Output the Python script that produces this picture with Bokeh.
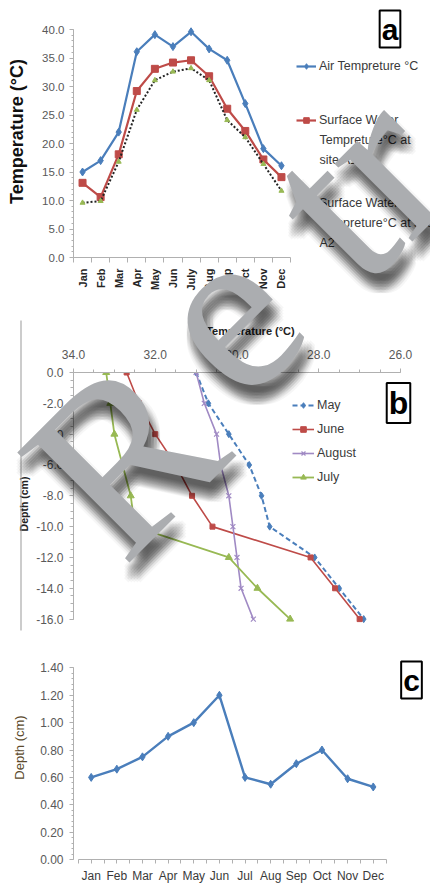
import math
from bokeh.plotting import figure
from bokeh.models import (Range1d, FixedTicker, NumeralTickFormatter, Legend,
                          LegendItem, Label, BoxAnnotation)
from bokeh.layouts import column
from bokeh.embed import file_html
from bokeh.resources import INLINE

# ---- (a) monthly air / surface water temperature ----
months_a = ["Jan", "Feb", "Mar", "Apr", "May", "Jun", "July", "Aug", "Sep", "Oct", "Nov", "Dec"]
air_temp = [15.0, 17.0, 22.0, 36.1, 39.1, 37.0, 39.6, 36.6, 34.6, 27.0, 19.1, 16.1]
water_a1 = [13.1, 10.6, 18.1, 29.2, 33.1, 34.2, 34.6, 31.8, 26.1, 22.2, 17.2, 14.1]
water_a2 = [9.6, 9.9, 16.8, 25.9, 31.1, 32.6, 33.2, 31.1, 24.1, 21.1, 16.4, 11.7]
legend_a = ["Air Tempreture \u00b0C",
            "Surface Water\nTempreture\u00b0C at\nsite A1",
            "Surface Water\nTempreture\u00b0C at site\nA2"]

# ---- (b) temperature profiles with depth ----
depth_b = [0.0, -2.0, -4.0, -6.0, -8.0, -10.0, -12.0, -14.0, -16.0]
temp_may = [31.0, 30.7, 30.2, 29.7, 29.4, 29.2, 28.1, 27.5, 26.9]
temp_june = [32.7, 32.4, 32.0, 31.5, 31.1, 30.6, 28.2, 27.6, 27.0]
temp_august = [31.0, 30.8, 30.5, 30.4, 30.2, 30.1, 30.0, 29.9, 29.6]
temp_july = [33.2, 33.1, 33.0, 32.8, 32.6, 32.5, 30.2, 29.5, 28.7]
legend_b = ["May", "June", "August", "July"]

# ---- (c) monthly depth ----
months_c = ["Jan", "Feb", "Mar", "Apr", "May", "Jun", "Jul", "Aug", "Sep", "Oct", "Nov", "Dec"]
depth_c = [0.60, 0.66, 0.75, 0.90, 1.00, 1.20, 0.60, 0.55, 0.70, 0.80, 0.59, 0.53]

BLUE = "#4a7ebb"
RED = "#be4b48"
GREEN = "#98b954"
PURPLE = "#a08ac4"
AXIS = "#b0b0b0"
TICK_TXT = "#595959"
LEG_TXT = "#3a3a3a"
FONT = "Liberation Sans"
W = 430
LEFT = 73  # common left border so the stacked frames line up


def base_fig(h, top, bottom, x_range, y_range, **kw):
    p = figure(width=W, height=h, output_backend="svg", toolbar_location=None,
               min_border_left=LEFT, min_border_right=0,
               min_border_top=top, min_border_bottom=bottom,
               x_range=x_range, y_range=y_range, **kw)
    p.outline_line_color = None
    p.xgrid.visible = False
    p.ygrid.visible = False
    return p


def style_axis(ax, size="11.5px", color=TICK_TXT, bold=False):
    ax.axis_line_color = AXIS
    ax.major_tick_line_color = AXIS
    ax.minor_tick_line_color = AXIS
    ax.major_label_text_color = color
    ax.major_label_text_font = FONT
    ax.major_label_text_font_size = size
    if bold:
        ax.major_label_text_font_style = "bold"
    ax.major_tick_in = 0
    ax.minor_tick_in = 0


def axis_title(ax, text, size, color="#111111", style="bold", standoff=8):
    ax.axis_label = text
    ax.axis_label_text_font = FONT
    ax.axis_label_text_font_style = style
    ax.axis_label_text_font_size = size
    ax.axis_label_text_color = color
    ax.axis_label_standoff = standoff


def box_label(p, text, x, y, size):
    p.add_layout(Label(x=x, y=y, text=text, text_align="center", text_baseline="middle",
                       text_font=FONT, text_font_style="bold", text_font_size=size,
                       text_color="black", border_line_color="black",
                       border_line_width=2, background_fill_color="white", padding=2))


# ================= panel (a) =================
# frame: x 73..430 px, y 0..257 px; 12 months over 217 px, 0..40 over 228 px
A_H, A_BOTTOM = 320, 63
a_dx = 217 / len(months_a)
a_dy = 228 / 40.0
a_px = lambda sx: 0.5 + (sx - LEFT) / a_dx
a_py = lambda sy: (257 - sy) / a_dy

xs_a = list(range(1, len(months_a) + 1))
pa = base_fig(A_H, 0, A_BOTTOM, Range1d(0.5, a_px(W)), Range1d(0, a_py(0)))

r_air_l = pa.line(xs_a, air_temp, line_color=BLUE, line_width=2.2)
r_air_m = pa.scatter(xs_a, air_temp, marker="diamond", size=8, color=BLUE)
r_a1_l = pa.line(xs_a, water_a1, line_color=RED, line_width=2.2)
r_a1_m = pa.scatter(xs_a, water_a1, marker="square", size=7, color=RED)
r_a2_l = pa.line(xs_a, water_a2, line_color="#222222", line_width=2, line_dash="2 2")
r_a2_m = pa.scatter(xs_a, water_a2, marker="triangle", size=5, color=GREEN)

xa = pa.xaxis[0]
style_axis(xa, size="11px", color="#262626", bold=True)
xa.bounds = (0.5, len(months_a) + 0.5)
xa.ticker = FixedTicker(ticks=xs_a, minor_ticks=[i + 0.5 for i in range(len(months_a) + 1)])
xa.major_label_overrides = {i + 1: m for i, m in enumerate(months_a)}
xa.major_label_orientation = math.pi / 2
xa.major_tick_out = 0
xa.minor_tick_out = 5
xa.major_label_standoff = 6

ya = pa.yaxis[0]
style_axis(ya)
ya.bounds = (0, 40)
ya.ticker = FixedTicker(ticks=list(range(0, 41, 5)), minor_ticks=list(range(0, 41)))
ya.formatter = NumeralTickFormatter(format="0.0")
ya.major_tick_out = 4
ya.minor_tick_out = 2
ya.major_label_standoff = 5
axis_title(ya, "Temperature  (\u00b0C)", "18px", standoff=12)

# legend entries beside the curves; extra lines of an entry follow under it
legend_rows = [(r_air_l, r_air_m, 66), (r_a1_l, r_a1_m, 120), (r_a2_l, r_a2_m, 203)]
for (rl, rm, cy), text in zip(legend_rows, legend_a):
    lines = text.split("\n")
    lg = Legend(items=[LegendItem(label=lines[0], renderers=[rl, rm])],
                location=(296 - LEFT, 257 - (cy + 7)), padding=0, margin=0,
                glyph_width=20, glyph_height=14, label_height=14, label_standoff=3,
                label_text_font=FONT, label_text_font_size="12.5px",
                label_text_color=LEG_TXT, border_line_color=None,
                background_fill_alpha=0)
    pa.add_layout(lg, "center")
    for k, extra in enumerate(lines[1:], start=1):
        pa.add_layout(Label(x=a_px(319), y=a_py(cy + 19.5 * k), text=extra,
                            text_font=FONT, text_font_size="12.5px",
                            text_color=LEG_TXT, text_baseline="middle"))

box_label(pa, "a", a_px(389.5), a_py(28.5), "30px")

# ================= panel (b) =================
# frame: x 73..430 px (34 -> 26 over 327 px), y 52..315 px (0 -> -16 over 246.6 px)
B_H, B_TOP = 315, 52
b_dx = 327 / 8.0
b_dy = 246.6 / 16.0
b_px = lambda sx: 34 - (sx - LEFT) / b_dx
b_py = lambda sy: -(sy - B_TOP) / b_dy

pb = base_fig(B_H, B_TOP, 0, Range1d(34, b_px(W)), Range1d(b_py(B_H), 0),
              x_axis_location="above")

r_may_l = pb.line(temp_may, depth_b, line_color=BLUE, line_width=2, line_dash="5 3")
r_may_m = pb.scatter(temp_may, depth_b, marker="diamond", size=7, color=BLUE)
r_jun_l = pb.line(temp_june, depth_b, line_color=RED, line_width=1.6)
r_jun_m = pb.scatter(temp_june, depth_b, marker="square", size=5, color=RED)
r_aug_l = pb.line(temp_august, depth_b, line_color=PURPLE, line_width=1.6)
r_aug_m = pb.scatter(temp_august, depth_b, marker="x", size=7, line_color=PURPLE, line_width=1.2)
r_jul_l = pb.line(temp_july, depth_b, line_color=GREEN, line_width=1.8)
r_jul_m = pb.scatter(temp_july, depth_b, marker="triangle", size=7, color=GREEN)

xb = pb.xaxis[0]
style_axis(xb, size="12px")
xb.bounds = (26, 34)
xb.ticker = FixedTicker(ticks=[26, 28, 30, 32, 34], minor_ticks=[26 + 0.5 * i for i in range(17)])
xb.formatter = NumeralTickFormatter(format="0.0")
xb.major_tick_out = 4
xb.minor_tick_out = 3
xb.major_label_standoff = 10
axis_title(xb, "Temperature  (\u00b0C)", "11px", color="#222222", standoff=10)

yb = pb.yaxis[0]
style_axis(yb, size="12px")
yb.bounds = (-16, 0)
yb.ticker = FixedTicker(ticks=list(range(-16, 1, 2)), minor_ticks=[-16 + 0.5 * i for i in range(33)])
yb.formatter = NumeralTickFormatter(format="0.0")
yb.major_tick_out = 4
yb.minor_tick_out = 3
yb.major_label_standoff = 6
axis_title(yb, "Depth (cm)", "10.5px", color="#222222", standoff=3)

lb = Legend(items=[LegendItem(label=n, renderers=list(r)) for n, r in zip(
                legend_b, [(r_may_l, r_may_m), (r_jun_l, r_jun_m),
                           (r_aug_l, r_aug_m), (r_jul_l, r_jul_m)])],
            location=(292 - LEFT, B_H - (78 + 86)), padding=0, margin=0, spacing=10,
            glyph_width=22, glyph_height=14, label_height=14, label_standoff=3,
            label_text_font=FONT, label_text_font_size="12.5px",
            label_text_color=LEG_TXT, border_line_color=None, background_fill_alpha=0)
pb.add_layout(lb, "center")
box_label(pb, "b", b_px(398), b_py(82.5), "32px")

# ================= panel (c) =================
# frame: x 73..430 px (months 25.64 px apart, Jan at 90.7), y 0..224 px (0..1.4 over 191.6 px)
C_H, C_BOTTOM = 251, 27
c_dx = 25.64
c_dy = 191.6 / 1.4
c_px = lambda sx: 1 + (sx - 90.7) / c_dx
c_py = lambda sy: (224 - sy) / c_dy

xs_c = list(range(1, len(months_c) + 1))
pc = base_fig(C_H, 0, C_BOTTOM, Range1d(c_px(LEFT), c_px(W)), Range1d(0, c_py(0)))
pc.line(xs_c, depth_c, line_color=BLUE, line_width=2.4)
pc.scatter(xs_c, depth_c, marker="diamond", size=8, color=BLUE)

xc = pc.xaxis[0]
style_axis(xc, size="12px", color=LEG_TXT)
xc.bounds = (0.5, len(months_c) + 0.5)
xc.ticker = FixedTicker(ticks=xs_c, minor_ticks=[i + 0.5 for i in range(len(months_c) + 1)])
xc.major_label_overrides = {i + 1: m for i, m in enumerate(months_c)}
xc.major_tick_out = 4
xc.minor_tick_out = 4
xc.major_label_standoff = 5

yc = pc.yaxis[0]
style_axis(yc, size="12px")
yc.bounds = (0, 1.4)
yc.ticker = FixedTicker(ticks=[round(0.2 * i, 2) for i in range(8)],
                        minor_ticks=[round(0.04 * i, 2) for i in range(36)])
yc.formatter = NumeralTickFormatter(format="0.00")
yc.major_tick_out = 4
yc.minor_tick_out = 2
yc.major_label_standoff = 6
axis_title(yc, "Depth (cm)", "13px", color="#5b4a2c", style="normal", standoff=10)

box_label(pc, "c", c_px(411), c_py(44.5), "30px")

# ================= stamp layer over the whole page =================
PAGE_H = A_H + B_H + C_H
stamp = figure(width=W, height=PAGE_H, output_backend="svg", toolbar_location=None,
               x_range=Range1d(0, W), y_range=Range1d(PAGE_H, 0),
               x_axis_type=None, y_axis_type=None, min_border=0,
               styles={"position": "absolute", "top": "0px", "left": "0px",
                       "pointer-events": "none", "z-index": "10"})
stamp.outline_line_color = None
stamp.grid.visible = False
stamp.background_fill_alpha = 0
stamp.border_fill_alpha = 0

# thin frame line at the left of the middle panel
stamp.add_layout(BoxAnnotation(left=20, right=21, top=A_H, bottom=A_H + B_H - 5,
                               fill_color="#9a9a9a", fill_alpha=1, line_color=None))

# diagonal stamp word: letters set one by one along a 45 degree baseline,
# each anchored at the centre of its own text box
WM_TEXT = "Retracted"
WM_ADV = {"R": 0.667, "e": 0.444, "t": 0.278, "r": 0.333, "a": 0.444, "c": 0.444, "d": 0.5}
WM_EM = 240
WM_GAPS = [60, 60, 0, 40, 40, 40, 40, 40]
WM_NUDGE = [(35, 3)] + [(0, 0)] * (len(WM_TEXT) - 1)
WM_ANGLE = math.radians(45)
WM_START = (88, 565)
WM_MID = 0.3375  # box centre above the baseline, in em

ux, uy = math.cos(WM_ANGLE), -math.sin(WM_ANGLE)
vx, vy = -math.sin(WM_ANGLE), -math.cos(WM_ANGLE)
centres = []
s = 0.0
for i, ch in enumerate(WM_TEXT):
    w = WM_ADV[ch] * WM_EM
    along = s + w / 2
    nx, ny = WM_NUDGE[i]
    centres.append((WM_START[0] + ux * along + vx * WM_MID * WM_EM + nx,
                    WM_START[1] + uy * along + vy * WM_MID * WM_EM + ny))
    if i < len(WM_GAPS):
        s += w + WM_GAPS[i]
wm_style = dict(angle=WM_ANGLE, text_font="Liberation Serif", text_font_size=f"{WM_EM}px",
                text_align="center", text_baseline="middle")
for dx in (-6, -3, 0, 3, 6):
    for dy in (-6, -3, 0, 3, 6):
        for ch, (x, y) in zip(WM_TEXT, centres):
            stamp.add_layout(Label(x=x + 5 + dx, y=y + 14 + dy, text=ch,
                                   text_color="black", text_alpha=0.034, **wm_style))
for ch, (x, y) in zip(WM_TEXT, centres):
    stamp.add_layout(Label(x=x, y=y, text=ch, text_color="#abadb0", **wm_style))

layout = column(pa, pb, pc, spacing=0)
open("out.html", "w").write(file_html([layout, stamp], INLINE))
